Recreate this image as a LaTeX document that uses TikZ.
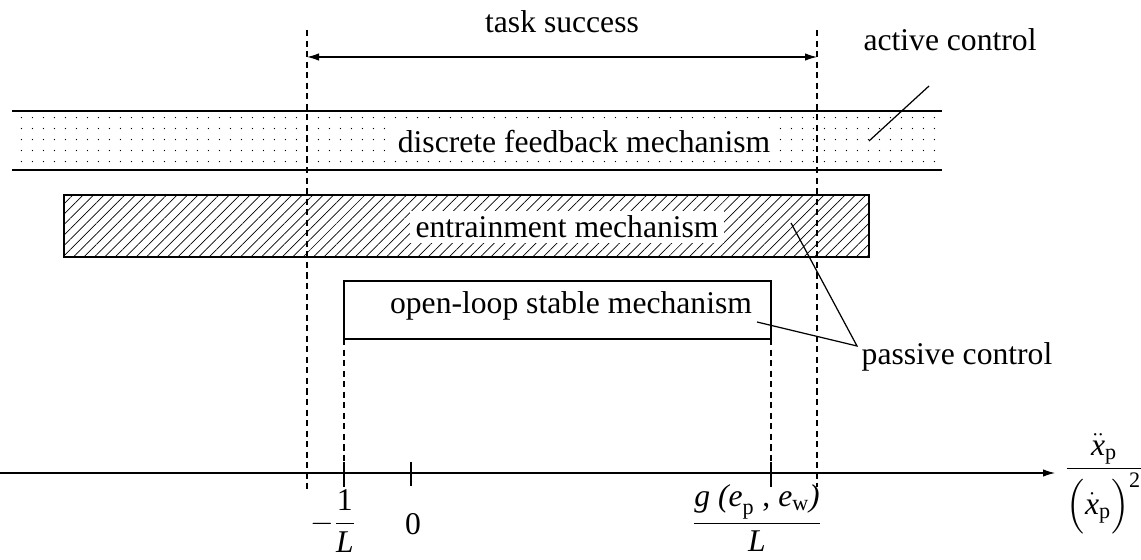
\documentclass[tikz,border=0pt]{standalone}
\usepackage{amsmath}
\usepackage{fontspec}
\setmainfont{Liberation Serif}
\usetikzlibrary{patterns.meta,arrows.meta}

\begin{document}
\begin{tikzpicture}[x=0.02cm, y=-0.02cm, font=\fontsize{18}{21}\selectfont,
  >={Latex[length=2.4mm,width=1.5mm]}, line width=0.7pt,
  lbl/.style={fill=white, inner sep=3pt},
  dsh/.style={dash pattern=on 3.5pt off 2.5pt, line width=0.7pt},
  tck/.style={line width=0.8pt}]
  \useasboundingbox (0,0) rectangle (1141,560);
  % bands
  \fill[pattern={Dots[distance=6.5pt, radius=0.4pt]}] (12,111) rectangle (942,170);
  \draw (12,111) -- (942,111) (12,170) -- (942,170);
  \draw[pattern={Lines[angle=45, distance=4.2pt, line width=0.4pt]}] (64,195) rectangle (869,257);
  \draw (344,281) rectangle (771,339);
  % limits of task success
  \coordinate (tl) at (307,57);
  \coordinate (tr) at (817,57);
  \draw[dsh] (307,30) -- (307,492);
  \draw[dsh] (817,30) -- (817,487);
  \draw[dsh] (344,339) -- (344,473);
  \draw[dsh] (771,339) -- (771,473);
  \draw[<->] (tl) -- (tr);
  \node (ts) at (562,22) {task success};
  % mechanisms
  \node[lbl] (dfb) at (584,142) {discrete feedback mechanism};
  \node[lbl] (ent) at (567,227) {entrainment mechanism};
  \node[inner sep=1pt] (ols) at (571,306) {open-loop stable mechanism};
  % active / passive
  \node (act) at (950,40) {active control};
  \coordinate (acta) at (929,86);
  \coordinate (actb) at (869,141);
  \draw (acta) -- (actb);
  \node (pas) at (957,357) {passive control};
  \coordinate (pasv) at (857,346);
  \coordinate (pase) at (791,223);
  \coordinate (paso) at (757,322);
  \draw (pase) -- (pasv) -- (paso);
  % axis
  \coordinate (o) at (0,473);
  \node (xlab) at (1104,484)
    {$\dfrac{\ddot{\textit{x}}_{\textrm{p}}}{\Bigl(\dot{\textit{x}}_{\textrm{p}}\Bigr)^{\text{2}}}$};
  \draw[->] (o) -- (1055,473);
  \draw[tck] (344,462) -- (344,487);
  \draw[tck] (411,462) -- (411,486);
  \draw[tck] (771,462) -- (771,487);
  \node (mL) at (333,521) {$-\dfrac{\text{1}}{\textit{L}}$};
  \node (zero) at (413,524) {0};
  \node (gL) at (757,518)
    {$\dfrac{\textit{g (e}_{\textrm{p}}\text{ , }\textit{e}_{\textrm{w}}\textit{)}}{\textit{L}}$};
\end{tikzpicture}
\end{document}
